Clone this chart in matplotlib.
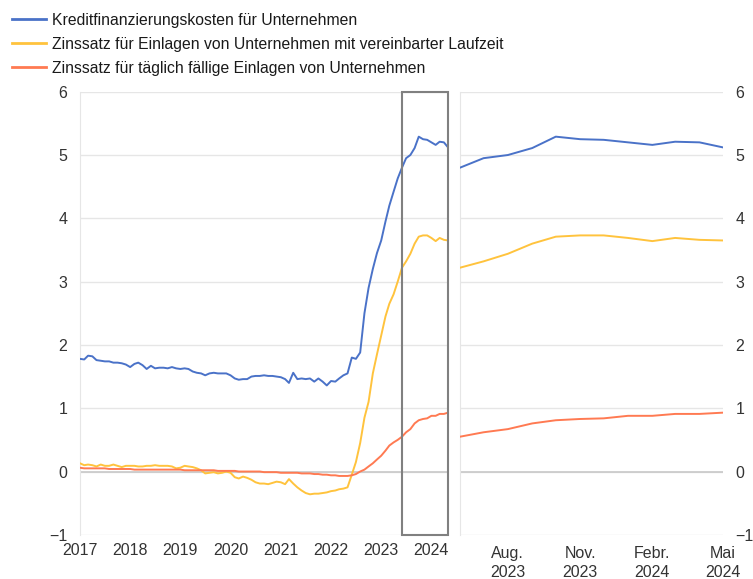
import matplotlib
matplotlib.use("Agg")
import matplotlib.pyplot as plt
import matplotlib.dates as mdates
from matplotlib.patches import Rectangle
import pandas as pd

plt.rcParams["font.family"] = ["Liberation Sans", "DejaVu Sans"]

# monthly data, Jan 2017 - May 2024
dates = pd.date_range("2017-01-01", "2024-05-01", freq="MS")

kredit = [
    1.78, 1.77, 1.83, 1.82, 1.76, 1.75, 1.74, 1.74, 1.72, 1.72, 1.71, 1.69,
    1.65, 1.70, 1.72, 1.68, 1.62, 1.67, 1.63, 1.64, 1.64, 1.63, 1.65, 1.63,
    1.62, 1.63, 1.62, 1.58, 1.56, 1.55, 1.52, 1.55, 1.56, 1.55, 1.55, 1.55,
    1.52, 1.47, 1.45, 1.46, 1.46, 1.50, 1.51, 1.51, 1.52, 1.51, 1.51, 1.50,
    1.49, 1.46, 1.40, 1.56, 1.46, 1.47, 1.46, 1.47, 1.42, 1.47, 1.42, 1.36,
    1.43, 1.42, 1.47, 1.52, 1.55, 1.80, 1.78, 1.88, 2.50, 2.90, 3.20, 3.45,
    3.65, 3.95, 4.20, 4.42, 4.63, 4.80, 4.95, 5.00, 5.11, 5.29, 5.25, 5.24,
    5.20, 5.16, 5.21, 5.20, 5.12,
]

laufzeit = [
    0.13, 0.10, 0.11, 0.10, 0.08, 0.11, 0.09, 0.09, 0.11, 0.09, 0.07, 0.09,
    0.09, 0.09, 0.08, 0.08, 0.09, 0.09, 0.10, 0.09, 0.09, 0.09, 0.08, 0.05,
    0.06, 0.09, 0.08, 0.07, 0.05, 0.02, -0.03, -0.02, -0.01, -0.03, -0.02, 0.00,
    -0.02, -0.09, -0.11, -0.08, -0.10, -0.13, -0.17, -0.19, -0.19, -0.20, -0.18, -0.16,
    -0.17, -0.20, -0.12, -0.19, -0.25, -0.30, -0.34, -0.36, -0.35, -0.35, -0.34, -0.33,
    -0.31, -0.30, -0.28, -0.27, -0.25, -0.05, 0.15, 0.45, 0.85, 1.10, 1.55, 1.85,
    2.15, 2.45, 2.65, 2.80, 3.00, 3.22, 3.32, 3.44, 3.60, 3.71, 3.73, 3.73,
    3.69, 3.64, 3.69, 3.66, 3.65,
]

taeglich = [
    0.06, 0.05, 0.05, 0.05, 0.05, 0.05, 0.05, 0.04, 0.04, 0.04, 0.04, 0.04,
    0.04, 0.03, 0.03, 0.03, 0.03, 0.03, 0.03, 0.03, 0.03, 0.03, 0.03, 0.03,
    0.03, 0.02, 0.02, 0.02, 0.02, 0.02, 0.02, 0.02, 0.02, 0.01, 0.01, 0.01,
    0.01, 0.01, 0.00, 0.00, 0.00, 0.00, 0.00, 0.00, -0.01, -0.01, -0.01, -0.01,
    -0.02, -0.02, -0.02, -0.02, -0.02, -0.03, -0.03, -0.03, -0.04, -0.04, -0.05, -0.05,
    -0.06, -0.06, -0.07, -0.07, -0.07, -0.06, -0.04, 0.00, 0.03, 0.08, 0.13, 0.19,
    0.25, 0.33, 0.41, 0.46, 0.50, 0.55, 0.62, 0.67, 0.76, 0.81, 0.83, 0.84,
    0.88, 0.88, 0.91, 0.91, 0.93,
]

labels = [
    "Kreditfinanzierungskosten für Unternehmen",
    "Zinssatz für Einlagen von Unternehmen mit vereinbarter Laufzeit",
    "Zinssatz für täglich fällige Einlagen von Unternehmen",
]
colors = ["#4a72c8", "#ffc33d", "#ff7a52"]
series = [kredit, laufzeit, taeglich]

zoom_start = pd.Timestamp("2023-06-01")
zoom_ticks = pd.to_datetime(["2023-08-01", "2023-11-01", "2024-02-01", "2024-05-01"])
zoom_labels = ["Aug.\n2023", "Nov.\n2023", "Febr.\n2024", "Mai\n2024"]
year_ticks = pd.date_range("2017-01-01", "2024-01-01", freq="YS")

text_color = "#333333"
grid_color = "#e6e6e6"
tick_size = 11.5


def style_axis(ax):
    ax.set_ylim(-1, 6)
    ax.set_yticks(range(-1, 7))
    ax.grid(True, axis="y", color=grid_color, linewidth=1, zorder=0)
    ax.axhline(0, color="#c8c8c8", linewidth=1.2, zorder=1)
    ax.set_axisbelow(True)
    for name, spine in ax.spines.items():
        spine.set_visible(name == "left")
    ax.spines["left"].set_color(grid_color)
    ax.tick_params(axis="both", length=0, labelsize=tick_size, labelcolor=text_color)


fig = plt.figure(figsize=(7.53, 5.79), dpi=100)
fig.patch.set_facecolor("white")

ax1 = fig.add_axes([0.1062, 0.0763, 0.4888, 0.7653])
ax2 = fig.add_axes([0.6109, 0.0763, 0.3493, 0.7653])

for vals, col, lab in zip(series, colors, labels):
    ax1.plot(dates, vals, color=col, linewidth=1.4, label=lab, zorder=3)
style_axis(ax1)
ax1.set_xlim(dates[0], dates[-1])
ax1.set_xticks(year_ticks)
ax1.set_xticklabels([str(d.year) for d in year_ticks])
ax1.tick_params(axis="y", pad=9)
ax1.tick_params(axis="x", pad=6)

x0 = mdates.date2num(zoom_start)
x1 = mdates.date2num(dates[-1])
ax1.add_patch(Rectangle((x0, -1), x1 - x0, 7, fill=False, edgecolor="#808080",
                        linewidth=1.5, clip_on=False, zorder=4))

mask = dates >= zoom_start
for vals, col in zip(series, colors):
    ax2.plot(dates[mask], [v for v, m in zip(vals, mask) if m], color=col, linewidth=1.4, zorder=3)
style_axis(ax2)
ax2.set_xlim(zoom_start, dates[-1])
ax2.set_xticks(zoom_ticks)
ax2.set_xticklabels(zoom_labels, linespacing=1.35)
ax2.yaxis.tick_right()
ax2.tick_params(axis="y", pad=9)
ax2.tick_params(axis="x", pad=8)

fig.legend(loc="upper left", bbox_to_anchor=(12 / 753, 0.978), frameon=False, fontsize=11.3,
           handlelength=2.15, handletextpad=0.38, labelspacing=0.58, borderpad=0,
           borderaxespad=0)
leg = fig.legends[0]
for line in leg.get_lines():
    line.set_linewidth(2)
for t in leg.get_texts():
    t.set_color("#1a1a1a")

fig.savefig("out.png", dpi=100, facecolor="white")
